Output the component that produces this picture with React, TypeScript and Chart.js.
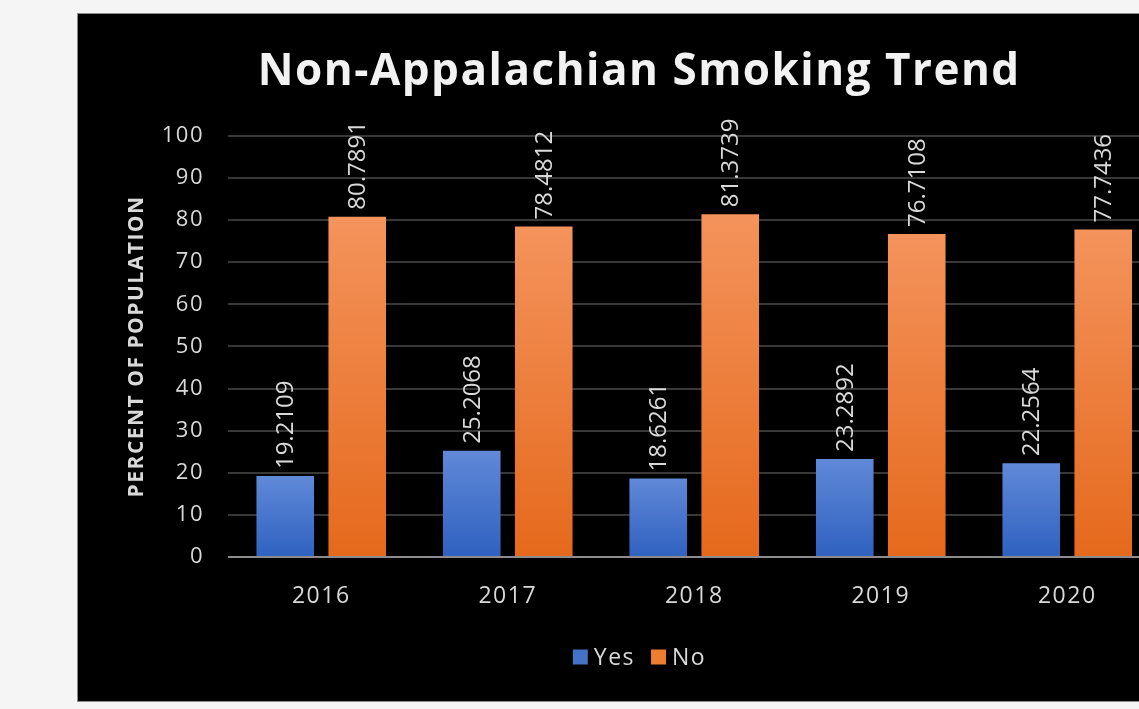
import React, { useEffect, useRef } from "react";
import { Chart, registerables } from "chart.js";

Chart.register(...registerables);

const categories = ["2016", "2017", "2018", "2019", "2020"];
const yesValues = [19.2109, 25.2068, 18.6261, 23.2892, 22.2564];
const noValues = [80.7891, 78.4812, 81.3739, 76.7108, 77.7436];
const seriesNames = ["Yes", "No"];
const seriesColors = ["#4472c4", "#ed7d31"];
const titleText = "Non-Appalachian Smoking Trend";
const yAxisTitle = "PERCENT OF POPULATION";

const FONT = "'Open Sans', sans-serif";
const TEXT = "#d9d9d9";

function barGradient(top: string, bottom: string, solid: string) {
  return (ctx: any) => {
    const chart = ctx.chart;
    const y = chart.scales?.y;
    if (!chart.chartArea || !y || ctx.raw == null) return solid;
    const yTop = y.getPixelForValue(ctx.raw);
    const yBot = y.getPixelForValue(0);
    if (!isFinite(yTop) || !isFinite(yBot) || yTop === yBot) return solid;
    const g = chart.ctx.createLinearGradient(0, yTop, 0, yBot);
    g.addColorStop(0, top);
    g.addColorStop(1, bottom);
    return g;
  };
}

const spacing = {
  id: "spacing",
  beforeDraw(chart: any) {
    (chart.ctx as any).letterSpacing = "1.5px";
  },
  afterDraw(chart: any) {
    (chart.ctx as any).letterSpacing = "0px";
  },
};

const valueLabels = {
  id: "valueLabels",
  afterDatasetsDraw(chart: any) {
    const ctx = chart.ctx;
    ctx.save();
    (ctx as any).letterSpacing = "0px";
    ctx.fillStyle = TEXT;
    ctx.font = `24px ${FONT}`;
    ctx.textAlign = "left";
    ctx.textBaseline = "middle";
    chart.data.datasets.forEach((ds: any, di: number) => {
      const meta = chart.getDatasetMeta(di);
      meta.data.forEach((el: any, i: number) => {
        const v = ds.data[i];
        ctx.save();
        ctx.translate(el.x, el.y - 7);
        ctx.rotate(-Math.PI / 2);
        ctx.fillText(String(v), 0, 1);
        ctx.restore();
      });
    });
    ctx.restore();
    (ctx as any).letterSpacing = "1.5px";
  },
};

const bottomLegend = {
  id: "bottomLegend",
  afterDraw(chart: any) {
    const ctx = chart.ctx;
    ctx.save();
    (ctx as any).letterSpacing = "1.5px";
    ctx.font = `23px ${FONT}`;
    ctx.textAlign = "left";
    ctx.textBaseline = "middle";
    const box = 15;
    const gap = 6;
    const itemGap = 16;
    const widths = seriesNames.map((n) => ctx.measureText(n).width);
    const total = widths.reduce((a, w) => a + box + gap + w, 0) + itemGap * (seriesNames.length - 1);
    let x = chart.width / 2 - total / 2;
    const cy = chart.height - 44;
    seriesNames.forEach((name, i) => {
      ctx.fillStyle = seriesColors[i];
      ctx.fillRect(x, cy - box / 2, box, box);
      x += box + gap;
      ctx.fillStyle = TEXT;
      ctx.fillText(name, x, cy + 1);
      x += widths[i] + itemGap;
    });
    ctx.restore();
  },
};

export default function App() {
  const ref = useRef<HTMLCanvasElement | null>(null);

  useEffect(() => {
    if (!ref.current) return;
    const chart = new Chart(ref.current, {
      type: "bar",
      data: {
        labels: categories,
        datasets: [
          {
            label: seriesNames[0],
            data: yesValues,
            backgroundColor: barGradient("#6089d8", "#2f61c0", seriesColors[0]),
            categoryPercentage: 0.772,
            barPercentage: 0.8,
          },
          {
            label: seriesNames[1],
            data: noValues,
            backgroundColor: barGradient("#f4935c", "#e5691c", seriesColors[1]),
            categoryPercentage: 0.772,
            barPercentage: 0.8,
          },
        ],
      },
      options: {
        responsive: false,
        animation: false,
        devicePixelRatio: 1,
        layout: { padding: { left: 0, right: 0.5, top: 0, bottom: 70 } },
        plugins: {
          title: {
            display: true,
            text: titleText,
            color: "#f2f2f2",
            font: { family: FONT, size: 44, weight: "bold" },
            padding: { top: 32, bottom: 37 },
          },
          legend: { display: false },
          tooltip: { enabled: false },
        },
        scales: {
          x: {
            grid: { display: false, drawTicks: false },
            border: { display: false },
            ticks: { color: TEXT, font: { family: FONT, size: 23 }, padding: 26 },
            afterFit: (s: any) => {
              s.height = 74;
            },
          },
          y: {
            min: 0,
            max: 100,
            ticks: { stepSize: 10, color: TEXT, font: { family: FONT, size: 22 }, padding: 24 },
            grid: {
              drawTicks: false,
              lineWidth: 2,
              color: (c: any) => (c.tick && c.tick.value === 0 ? "#8c8c8c" : "#383838"),
            },
            border: { display: false },
            title: {
              display: true,
              text: yAxisTitle,
              color: TEXT,
              font: { family: FONT, size: 21, weight: "bold" },
              padding: { top: 6, bottom: 0 },
            },
            afterFit: (s: any) => {
              s.width = 110;
            },
          },
        },
      },
      plugins: [spacing, valueLabels, bottomLegend],
    });
    return () => chart.destroy();
  }, []);

  return (
    <div
      style={{
        position: "fixed",
        left: 0,
        top: 0,
        width: "100vw",
        height: "100vh",
        background: "#f5f5f5",
        overflow: "hidden",
      }}
    >
      <div
        style={{
          position: "absolute",
          left: 77,
          top: 13,
          width: 1140,
          height: 687,
          background: "#000",
          border: "1px solid #8a8a8a",
        }}
      >
        <canvas
          ref={ref}
          width={1043}
          height={687}
          style={{ display: "block", position: "absolute", left: 40, top: 0 }}
        />
      </div>
    </div>
  );
}
